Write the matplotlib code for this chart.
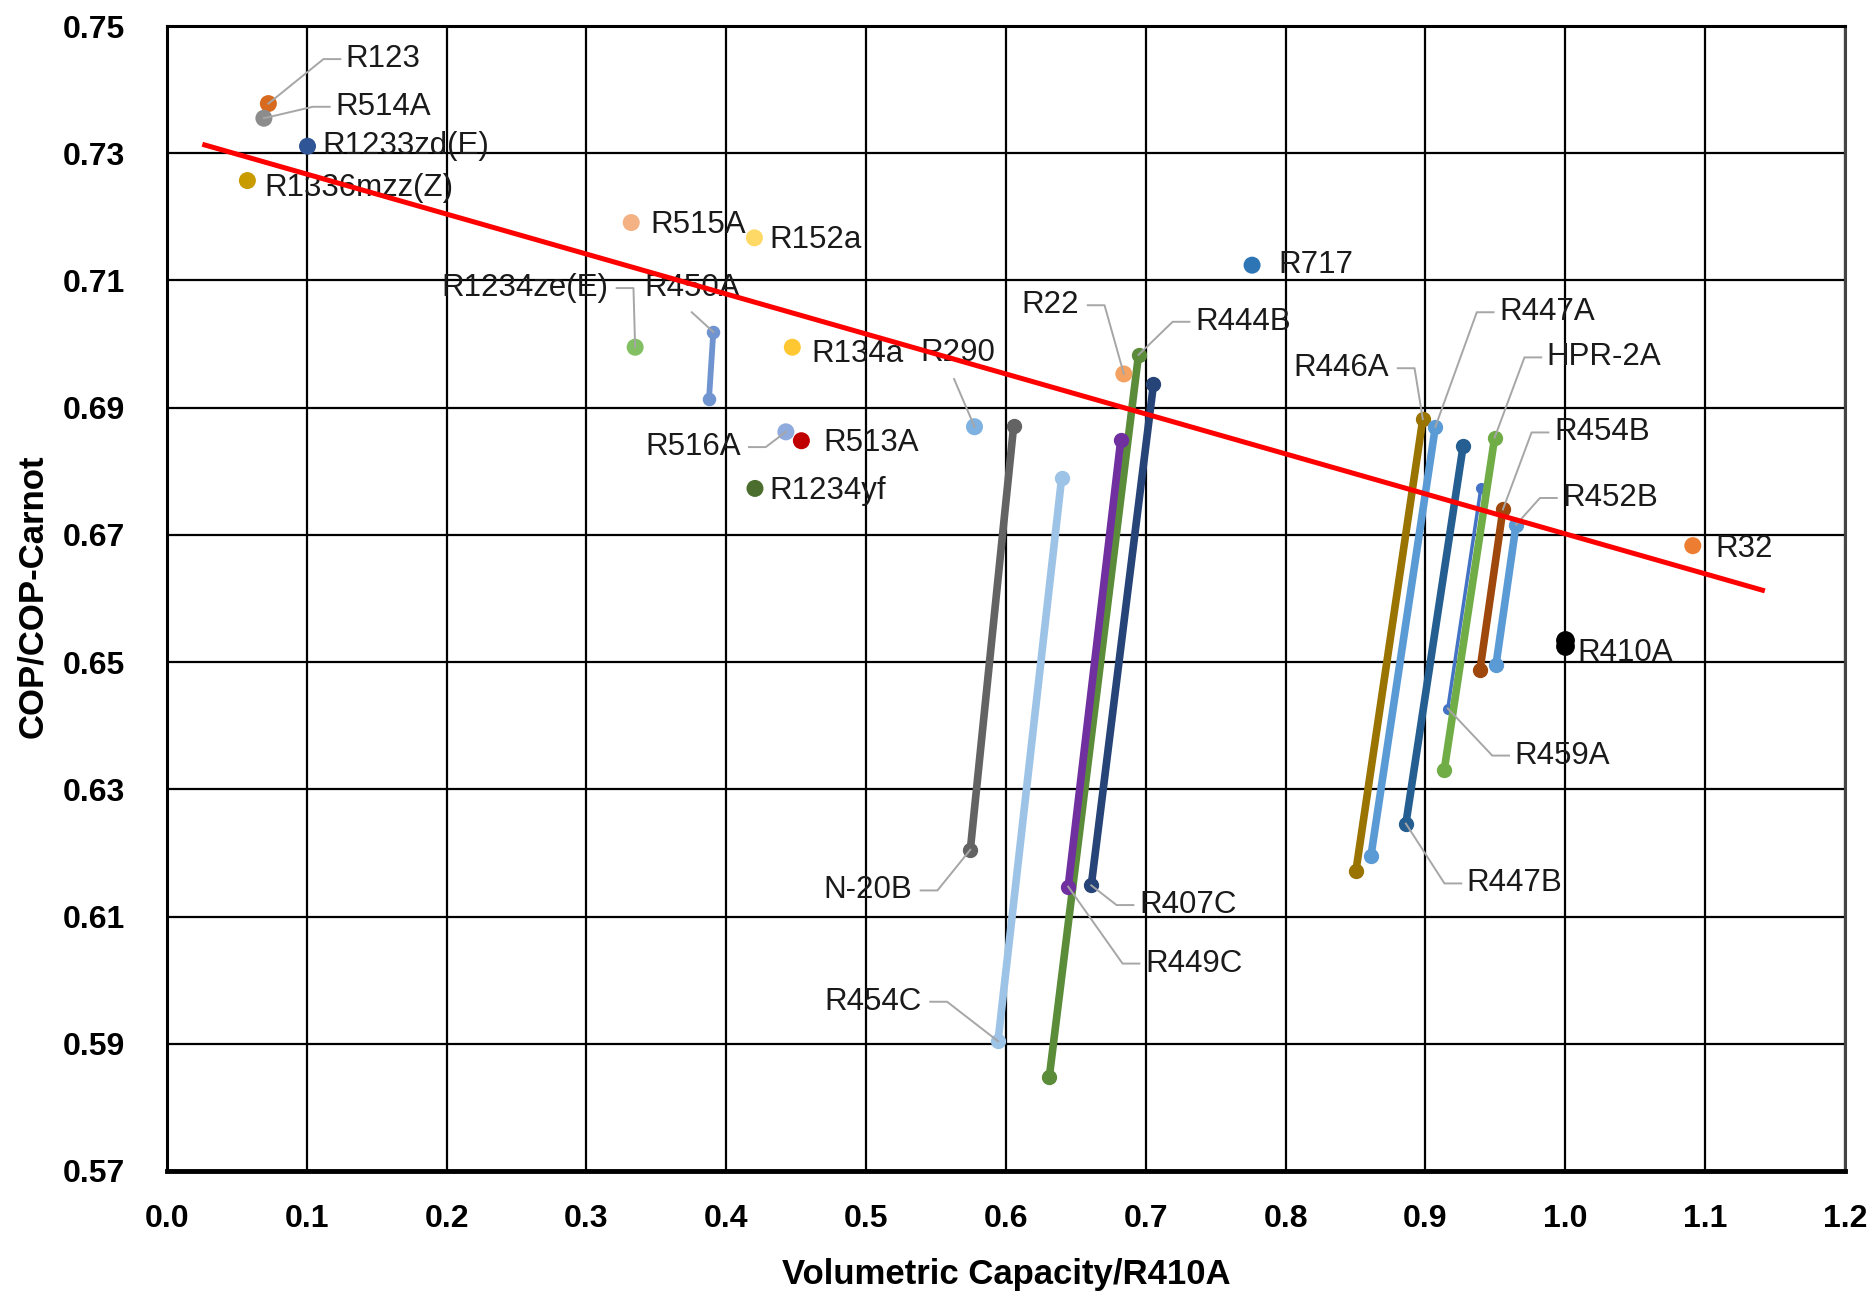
import matplotlib.pyplot as plt

plt.rcParams['font.family'] = ['Liberation Sans Narrow', 'Liberation Sans', 'DejaVu Sans']

# single-point refrigerants
pt_names = ['R123', 'R514A', 'R1233zd(E)', 'R1336mzz(Z)', 'R515A', 'R152a', 'R717',
            'R1234ze(E)', 'R134a', 'R290', 'R22', 'R516A', 'R513A', 'R1234yf', 'R32']
pt_x = [0.0725, 0.0693, 0.1005, 0.0575, 0.332, 0.4201, 0.776,
        0.3348, 0.4472, 0.5775, 0.6843, 0.4426, 0.4537, 0.4205, 1.0912]
pt_y = [0.7378, 0.7355, 0.7311, 0.7257, 0.7191, 0.7167, 0.7124,
        0.6995, 0.6995, 0.6870, 0.6953, 0.6862, 0.6848, 0.6773, 0.6683]
pt_colors = ['#D76A1E', '#8C8C8C', '#2F5597', '#C89B00', '#F4B183', '#FFD966', '#2E75B6',
             '#82C063', '#FFC832', '#7FB2E0', '#F4A261', '#8FAADC', '#C00000', '#4B6E2E', '#ED7D31']

# blends with glide: bottom end -> top end
ln_names = ['R450A', 'N-20B', 'R454C', 'R444B', 'R449C', 'R407C', 'R446A', 'R447A',
            'R447B', 'R459A', 'HPR-2A', 'R454B', 'R452B', 'R410A']
ln_x0 = [0.3876, 0.5745, 0.5943, 0.6310, 0.6445, 0.6610, 0.8503, 0.8610,
         0.8860, 0.9160, 0.9134, 0.9390, 0.9504, 0.9997]
ln_y0 = [0.6913, 0.6205, 0.5904, 0.5848, 0.6147, 0.6149, 0.6172, 0.6195,
         0.6246, 0.6427, 0.6330, 0.6488, 0.6495, 0.6525]
ln_x1 = [0.3907, 0.6055, 0.6398, 0.6948, 0.6821, 0.7055, 0.8981, 0.9071,
         0.9269, 0.9396, 0.9495, 0.9554, 0.9648, 1.0000]
ln_y1 = [0.7019, 0.6871, 0.6789, 0.6983, 0.6849, 0.6937, 0.6882, 0.6870,
         0.6839, 0.6773, 0.6853, 0.6740, 0.6716, 0.6535]
ln_colors = ['#7094D0', '#636363', '#9DC3E6', '#5B8C3A', '#7030A0', '#264478', '#9A7400', '#5B9BD5',
             '#255E91', '#4472C4', '#70AD47', '#9E480E', '#5B9BD5', '#000000']
ln_widths = [4.2, 5.5, 5.5, 5.5, 5.5, 5.5, 5.5, 5.5, 5.5, 2.5, 5.5, 5.5, 5.5, 8]

# trend line
trend_x = [0.027, 1.141]
trend_y = [0.7313, 0.6613]

x_ticks = [0.0, 0.1, 0.2, 0.3, 0.4, 0.5, 0.6, 0.7, 0.8, 0.9, 1.0, 1.1, 1.2]
y_ticks = [0.57, 0.59, 0.61, 0.63, 0.65, 0.67, 0.69, 0.71, 0.73, 0.75]

# label text position, alignment, leader target ('pt', 'top', 'bottom' or None)
labels = [
    ('R123', 0.1279, 0.7448, 'left', 'pt'),
    ('R514A', 0.1203, 0.7373, 'left', 'pt'),
    ('R1233zd(E)', 0.1109, 0.7311, 'left', None),
    ('R1336mzz(Z)', 0.0700, 0.7245, 'left', None),
    ('R515A', 0.3454, 0.7187, 'left', None),
    ('R152a', 0.4307, 0.7164, 'left', None),
    ('R717', 0.7949, 0.7125, 'left', None),
    ('R1234ze(E)', 0.3156, 0.7088, 'right', 'pt'),
    ('R450A', 0.3411, 0.7088, 'left', 'top'),
    ('R134a', 0.4606, 0.6984, 'left', None),
    ('R290', 0.5390, 0.6986, 'left', 'pt'),
    ('R22', 0.6525, 0.7061, 'right', 'pt'),
    ('R444B', 0.7352, 0.7035, 'left', 'top'),
    ('R446A', 0.8742, 0.6962, 'right', 'top'),
    ('R447A', 0.9527, 0.7050, 'left', 'top'),
    ('HPR-2A', 0.9868, 0.6979, 'left', 'top'),
    ('R454B', 0.9919, 0.6861, 'left', 'top'),
    ('R452B', 0.9979, 0.6758, 'left', 'top'),
    ('R32', 1.1070, 0.6677, 'left', None),
    ('R410A', 1.0090, 0.6514, 'left', None),
    ('R459A', 0.9638, 0.6353, 'left', 'bottom'),
    ('R447B', 0.9296, 0.6152, 'left', 'bottom'),
    ('R516A', 0.4102, 0.6838, 'right', 'pt'),
    ('R513A', 0.4691, 0.6844, 'left', None),
    ('R1234yf', 0.4307, 0.6769, 'left', None),
    ('N-20B', 0.5330, 0.6141, 'right', 'bottom'),
    ('R407C', 0.6951, 0.6118, 'left', 'bottom'),
    ('R449C', 0.6994, 0.6026, 'left', 'bottom'),
    ('R454C', 0.5399, 0.5966, 'right', 'bottom'),
]
# leaders that leave from under the text instead of its side
under_leaders = {'R450A': (0.3753, 0.7050), 'R290': (0.5629, 0.6945)}

fig = plt.figure(figsize=(18.7, 12.94), dpi=100)
ax = fig.add_axes([0.0893, 0.0951, 0.8973, 0.8848])

for i in range(len(ln_names)):
    ax.plot([ln_x0[i], ln_x1[i]], [ln_y0[i], ln_y1[i]], color=ln_colors[i], lw=ln_widths[i],
            marker='o', ms=ln_widths[i] + 4.5, solid_capstyle='round', zorder=3)

ax.scatter(pt_x, pt_y, c=pt_colors, s=150, zorder=4, linewidths=0)

ax.plot(trend_x, trend_y, color='#FF0000', lw=3.6, zorder=6)

for name, tx, ty, ha, target in labels:
    ax.text(tx, ty, name, ha=ha, va='center', fontsize=22.5, color='#1a1a1a', zorder=5)
    if target is None:
        continue
    if target == 'pt':
        k = pt_names.index(name)
        end = (pt_x[k], pt_y[k])
    else:
        k = ln_names.index(name)
        end = (ln_x1[k], ln_y1[k]) if target == 'top' else (ln_x0[k], ln_y0[k])
    if name in under_leaders:
        xs = [under_leaders[name][0], end[0]]
        ys = [under_leaders[name][1], end[1]]
    else:
        sx = tx - 0.004 if ha == 'left' else tx + 0.006
        ex = sx - 0.012 if ha == 'left' else sx + 0.012
        xs = [sx, ex, end[0]]
        ys = [ty, ty, end[1]]
    ax.plot(xs, ys, color='#A6A6A6', lw=1.4, zorder=4.5)

ax.set_xlim(0, 1.2)
ax.set_ylim(0.57, 0.75)
ax.set_xticks(x_ticks)
ax.set_xticklabels(['%.1f' % v for v in x_ticks])
ax.set_yticks(y_ticks)
ax.set_yticklabels(['%.2f' % v for v in y_ticks])
ax.tick_params(length=0, labelsize=23)
ax.tick_params(axis='x', pad=24)
ax.tick_params(axis='y', pad=30)
for lab in ax.get_xticklabels() + ax.get_yticklabels():
    lab.set_fontweight('bold')

ax.grid(True, color='black', lw=1.6)
ax.set_axisbelow(True)
for s in ax.spines.values():
    s.set_linewidth(2.2)
    s.set_color('black')
ax.spines['bottom'].set_linewidth(3.5)
ax.spines['right'].set_color('#444444')

ax.set_xlabel('Volumetric Capacity/R410A', fontsize=25, fontweight='bold')
ax.set_ylabel('COP/COP-Carnot', fontsize=25, fontweight='bold')
ax.xaxis.set_label_coords(0.5, -0.076)
ax.yaxis.set_label_coords(-0.07, 0.502)

fig.savefig('out.png', dpi=100)
